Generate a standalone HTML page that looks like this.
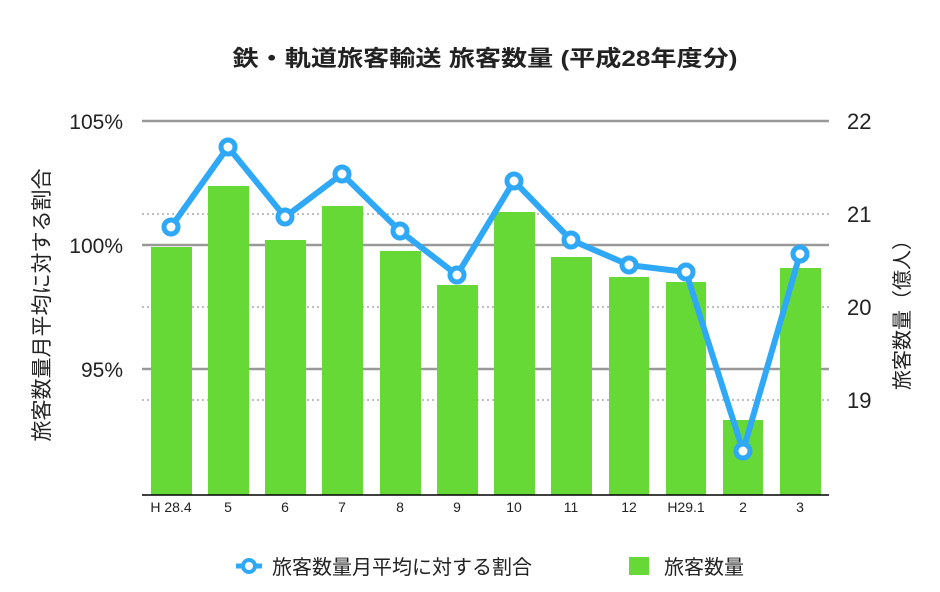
<!DOCTYPE html>
<html><head><meta charset="utf-8"><style>
html,body{margin:0;padding:0;background:#fff;}
svg text{font-family:"Liberation Sans","Noto Sans CJK JP",sans-serif;fill:#222;}
</style></head><body>
<svg width="940" height="587" viewBox="0 0 940 587" xmlns="http://www.w3.org/2000/svg">
<text x="485" y="66" text-anchor="middle" font-size="22" font-weight="bold" textLength="505" lengthAdjust="spacingAndGlyphs">鉄・軌道旅客輸送 旅客数量 (平成28年度分)</text>
<g stroke="#999" stroke-width="1.2" stroke-dasharray="2,3">
<line x1="142" y1="214" x2="829" y2="214"/><line x1="142" y1="307" x2="829" y2="307"/><line x1="142" y1="400" x2="829" y2="400"/>
</g>
<g stroke="#999" stroke-width="2.5">
<line x1="142" y1="121" x2="829" y2="121"/><line x1="142" y1="245" x2="829" y2="245"/><line x1="142" y1="369" x2="829" y2="369"/>
</g>
<g fill="#66d936">
<rect x="151" y="247" width="41" height="248"/>
<rect x="208" y="186" width="41" height="309"/>
<rect x="265" y="240" width="41" height="255"/>
<rect x="322" y="206" width="41" height="289"/>
<rect x="380" y="251" width="41" height="244"/>
<rect x="437" y="285" width="41" height="210"/>
<rect x="494" y="212" width="41" height="283"/>
<rect x="551" y="257" width="41" height="238"/>
<rect x="609" y="277" width="40" height="218"/>
<rect x="666" y="282" width="40" height="213"/>
<rect x="723" y="420" width="40" height="75"/>
<rect x="780" y="268" width="41" height="227"/>
</g>
<line x1="142" y1="495" x2="829" y2="495" stroke="#000" stroke-width="1.5"/>
<polyline fill="none" stroke="#2fa8f8" stroke-width="6" stroke-linejoin="round" points="171,227 228,147 285,217 342,174 400,231 457,275 514,181 571,240 629,265 686,272 743,451 800,254"/>
<g fill="#fff" stroke="#2fa8f8" stroke-width="5">
<circle cx="171" cy="227" r="7"/><circle cx="228" cy="147" r="7"/><circle cx="285" cy="217" r="7"/><circle cx="342" cy="174" r="7"/><circle cx="400" cy="231" r="7"/><circle cx="457" cy="275" r="7"/><circle cx="514" cy="181" r="7"/><circle cx="571" cy="240" r="7"/><circle cx="629" cy="265" r="7"/><circle cx="686" cy="272" r="7"/><circle cx="743" cy="451" r="7"/><circle cx="800" cy="254" r="7"/>
</g>
<g font-size="14" text-anchor="middle">
<text x="171" y="512">H 28.4</text><text x="228" y="512">5</text><text x="285" y="512">6</text><text x="342" y="512">7</text><text x="400" y="512">8</text><text x="457" y="512">9</text><text x="514" y="512">10</text><text x="571" y="512">11</text><text x="629" y="512">12</text><text x="686" y="512">H29.1</text><text x="743" y="512">2</text><text x="800" y="512">3</text>
</g>
<g font-size="21" text-anchor="end">
<text x="123" y="129">105%</text><text x="123" y="253">100%</text><text x="123" y="377">95%</text>
</g>
<g font-size="22">
<text x="847" y="129">22</text><text x="847" y="222">21</text><text x="847" y="315">20</text><text x="847" y="408">19</text>
</g>
<text transform="translate(49,305) rotate(-90)" font-size="21" text-anchor="middle">旅客数量月平均に対する割合</text>
<text transform="translate(909,310) rotate(-90)" font-size="20" text-anchor="middle">旅客数量（億人）</text>
<line x1="236" y1="566" x2="262" y2="566" stroke="#2fa8f8" stroke-width="5"/>
<circle cx="249" cy="566" r="6" fill="#fff" stroke="#2fa8f8" stroke-width="4"/>
<text x="272" y="574" font-size="20">旅客数量月平均に対する割合</text>
<rect x="629" y="557" width="20" height="18" fill="#66d936"/>
<text x="664" y="574" font-size="20">旅客数量</text>
</svg>
</body></html>
